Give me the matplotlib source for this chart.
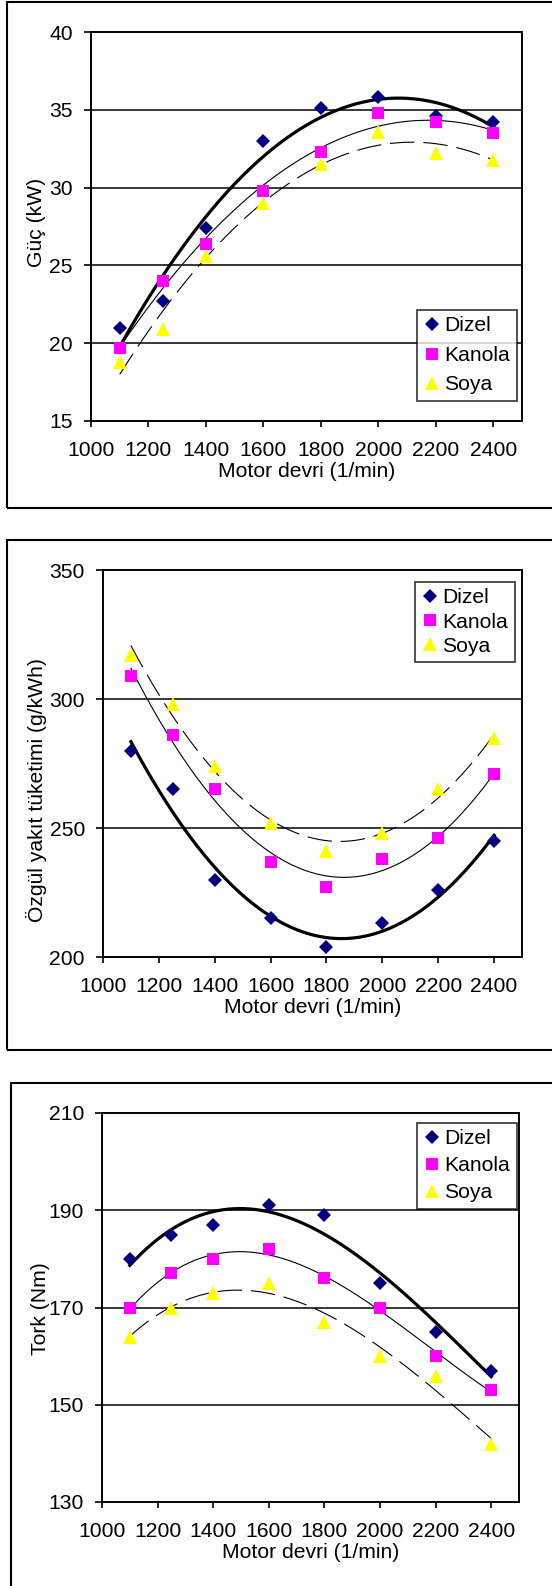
import numpy as np
import matplotlib.pyplot as plt
from matplotlib.patches import Rectangle

plt.rcParams['font.family'] = ['Liberation Sans', 'DejaVu Sans']

# motor devri (1/min)
rpm = [1100, 1250, 1400, 1600, 1800, 2000, 2200, 2400]

# Guc (kW)
guc_dizel = [21.0, 22.7, 27.4, 33.0, 35.1, 35.8, 34.6, 34.2]
guc_kanola = [19.7, 24.0, 26.4, 29.8, 32.3, 34.8, 34.2, 33.5]
guc_soya = [18.8, 20.9, 25.6, 29.0, 31.5, 33.6, 32.2, 31.8]

# Ozgul yakit tuketimi (g/kWh)
oyt_dizel = [280, 265, 230, 215, 204, 213, 226, 245]
oyt_kanola = [309, 286, 265, 237, 227, 238, 246, 271]
oyt_soya = [317, 298, 274, 252, 241, 248, 265, 285]

# Tork (Nm)
tork_dizel = [180, 185, 187, 191, 189, 175, 165, 157]
tork_kanola = [170, 177, 180, 182, 176, 170, 160, 153]
tork_soya = [164, 170, 173, 175, 167, 160, 156, 142]

names = ['Dizel', 'Kanola', 'Soya']

W, H = 552, 1586
fig = plt.figure(figsize=(W / 100, H / 100), dpi=100)
FS = 15.2


def frame(l, t, b):
    # outer box around each chart (right side runs off the picture)
    fig.patches.append(Rectangle((l / W, 1 - b / H), (570 - l) / W, (b - t) / H,
                                 transform=fig.transFigure, fill=False,
                                 edgecolor='black', linewidth=1.5))


def panel(box, series, yticks, ylabel, ylab_x, ylab_bottom, leg_box, leg_space, deg):
    l, r, t, b = box
    ax = fig.add_axes([l / W, 1 - b / H, (r - l) / W, (b - t) / H])
    markers = [('D', '#000080', 7.2), ('s', '#FF00FF', 8.8), ('^', '#FFFF00', 10.5)]
    for vals, (m, c, ms), name in zip(series, markers, names):
        ax.plot(rpm, vals, linestyle='none', marker=m, color=c, markersize=ms,
                markeredgewidth=0, label=name, zorder=4)
    # polinom trend cizgileri
    xs = np.linspace(rpm[0], rpm[-1], 200)
    styles = [dict(lw=2.3, ls='-'), dict(lw=0.8, ls='-'), dict(lw=0.8, ls=(0, (22, 8)))]
    for vals, st in zip(series, styles):
        ax.plot(xs, np.polyval(np.polyfit(rpm, vals, deg), xs), color='black',
                zorder=3, **st)
    ax.set_xlim(1000, 2500)
    ax.set_ylim(yticks[0], yticks[-1])
    ax.set_xticks(range(1000, 2401, 200))
    ax.set_yticks(yticks)
    for y in yticks[1:-1]:
        ax.axhline(y, color='black', lw=1.1, zorder=1)
    for s in ax.spines.values():
        s.set_linewidth(1.4)
    ax.tick_params(axis='x', direction='out', length=4.5, width=1.2, pad=10, labelsize=FS)
    ax.tick_params(axis='y', direction='out', length=5, width=1.2, pad=8, labelsize=FS)
    ax.set_xlabel('Motor devri (1/min)', fontsize=FS, labelpad=1)
    fig.text(ylab_x / W, 1 - ylab_bottom / H, ylabel, rotation=90, fontsize=FS,
             ha='center', va='bottom')
    lx, ly = leg_box
    leg = ax.legend(loc='upper left', bbox_to_anchor=(lx / W, 1 - ly / H),
                    bbox_transform=fig.transFigure, fontsize=FS, frameon=True,
                    fancybox=False, handlelength=0.8, handletextpad=0.2,
                    borderpad=0.3, borderaxespad=0, labelspacing=leg_space)
    leg.get_frame().set_edgecolor('black')
    leg.get_frame().set_linewidth(1.2)
    return ax


frame(7, 2, 508)
frame(7, 540, 1050)
frame(11, 1083, 1600)

panel((91, 522, 32, 421), [guc_dizel, guc_kanola, guc_soya], [15, 20, 25, 30, 35, 40],
      'Güç (kW)', 37, 267, (417, 310), 0.5, 2)
panel((103, 522, 570, 957), [oyt_dizel, oyt_kanola, oyt_soya], [200, 250, 300, 350],
      'Özgül yakıt tüketimi (g/kWh)', 36, 922, (415, 582), 0.25, 2)
panel((102, 519, 1113, 1502), [tork_dizel, tork_kanola, tork_soya], [130, 150, 170, 190, 210],
      'Tork (Nm)', 40, 1355, (417, 1123), 0.38, 3)

fig.savefig('out.png', dpi=100)
